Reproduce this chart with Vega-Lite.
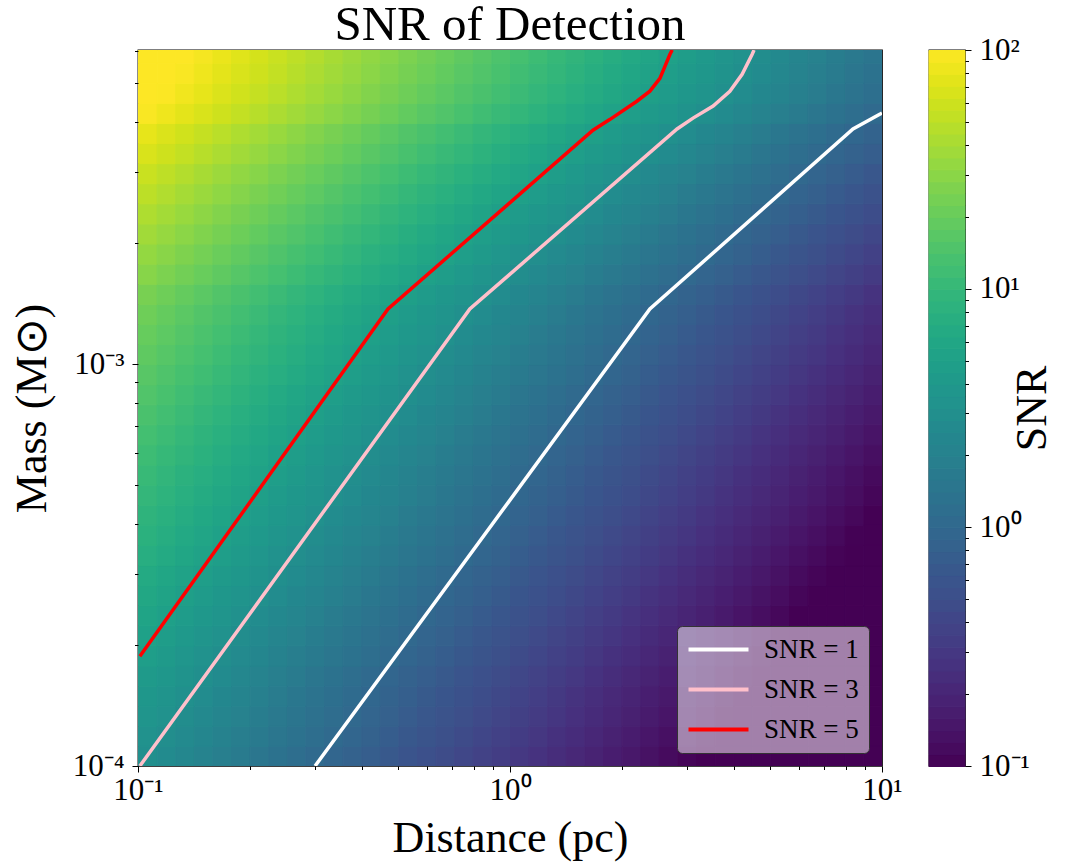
{
"$schema": "https://vega.github.io/schema/vega-lite/v6.json",
"background": "white",
"padding": {"left": 9, "top": 0, "right": 4, "bottom": 2},
"bounds": "flush",
"spacing": 47,
"resolve": {"scale": {"color": "independent", "stroke": "independent"}, "legend": {"stroke": "independent"}},
"config": {"font": "Liberation Serif", "view": {"stroke": "black", "strokeWidth": 1.3}, "title": {"font": "Liberation Serif", "fontSize": 49, "fontWeight": "normal", "color": "black"}},
"hconcat": [
{
"width": 744, "height": 716,
"title": {"text": "SNR of Detection", "offset": -15, "anchor": "middle", "frame": "group"},
"resolve": {"scale": {"stroke": "independent"}},
"layer": [
{
"data": {"values": [
{"x":-0.975,"y":-3.975,"s":0.48},{"x":-0.925,"y":-3.975,"s":0.43},{"x":-0.875,"y":-3.975,"s":0.38},{"x":-0.825,"y":-3.975,"s":0.33},{"x":-0.775,"y":-3.975,"s":0.28},{"x":-0.725,"y":-3.975,"s":0.23},{"x":-0.675,"y":-3.975,"s":0.18},{"x":-0.625,"y":-3.975,"s":0.13},{"x":-0.575,"y":-3.975,"s":0.08},{"x":-0.525,"y":-3.975,"s":0.03},{"x":-0.475,"y":-3.975,"s":-0.02},{"x":-0.425,"y":-3.975,"s":-0.07},{"x":-0.375,"y":-3.975,"s":-0.12},{"x":-0.325,"y":-3.975,"s":-0.17},{"x":-0.275,"y":-3.975,"s":-0.22},{"x":-0.225,"y":-3.975,"s":-0.27},{"x":-0.175,"y":-3.975,"s":-0.32},{"x":-0.125,"y":-3.975,"s":-0.37},{"x":-0.075,"y":-3.975,"s":-0.42},{"x":-0.025,"y":-3.975,"s":-0.47},{"x":0.025,"y":-3.975,"s":-0.52},{"x":0.075,"y":-3.975,"s":-0.57},{"x":0.125,"y":-3.975,"s":-0.62},{"x":0.175,"y":-3.975,"s":-0.67},{"x":0.225,"y":-3.975,"s":-0.72},{"x":0.275,"y":-3.975,"s":-0.77},{"x":0.325,"y":-3.975,"s":-0.82},{"x":0.375,"y":-3.975,"s":-0.87},{"x":0.425,"y":-3.975,"s":-0.92},{"x":0.475,"y":-3.975,"s":-0.97},{"x":0.525,"y":-3.975,"s":-1.02},{"x":0.575,"y":-3.975,"s":-1.07},{"x":0.625,"y":-3.975,"s":-1.12},{"x":0.675,"y":-3.975,"s":-1.17},{"x":0.725,"y":-3.975,"s":-1.22},{"x":0.775,"y":-3.975,"s":-1.27},{"x":0.825,"y":-3.975,"s":-1.32},{"x":0.875,"y":-3.975,"s":-1.37},{"x":0.925,"y":-3.975,"s":-1.42},{"x":0.975,"y":-3.975,"s":-1.47},
{"x":-0.975,"y":-3.925,"s":0.52},{"x":-0.925,"y":-3.925,"s":0.47},{"x":-0.875,"y":-3.925,"s":0.42},{"x":-0.825,"y":-3.925,"s":0.37},{"x":-0.775,"y":-3.925,"s":0.32},{"x":-0.725,"y":-3.925,"s":0.27},{"x":-0.675,"y":-3.925,"s":0.22},{"x":-0.625,"y":-3.925,"s":0.17},{"x":-0.575,"y":-3.925,"s":0.12},{"x":-0.525,"y":-3.925,"s":0.07},{"x":-0.475,"y":-3.925,"s":0.02},{"x":-0.425,"y":-3.925,"s":-0.03},{"x":-0.375,"y":-3.925,"s":-0.08},{"x":-0.325,"y":-3.925,"s":-0.13},{"x":-0.275,"y":-3.925,"s":-0.18},{"x":-0.225,"y":-3.925,"s":-0.23},{"x":-0.175,"y":-3.925,"s":-0.28},{"x":-0.125,"y":-3.925,"s":-0.33},{"x":-0.075,"y":-3.925,"s":-0.38},{"x":-0.025,"y":-3.925,"s":-0.43},{"x":0.025,"y":-3.925,"s":-0.48},{"x":0.075,"y":-3.925,"s":-0.53},{"x":0.125,"y":-3.925,"s":-0.58},{"x":0.175,"y":-3.925,"s":-0.63},{"x":0.225,"y":-3.925,"s":-0.68},{"x":0.275,"y":-3.925,"s":-0.73},{"x":0.325,"y":-3.925,"s":-0.78},{"x":0.375,"y":-3.925,"s":-0.83},{"x":0.425,"y":-3.925,"s":-0.88},{"x":0.475,"y":-3.925,"s":-0.93},{"x":0.525,"y":-3.925,"s":-0.98},{"x":0.575,"y":-3.925,"s":-1.03},{"x":0.625,"y":-3.925,"s":-1.08},{"x":0.675,"y":-3.925,"s":-1.13},{"x":0.725,"y":-3.925,"s":-1.18},{"x":0.775,"y":-3.925,"s":-1.23},{"x":0.825,"y":-3.925,"s":-1.28},{"x":0.875,"y":-3.925,"s":-1.33},{"x":0.925,"y":-3.925,"s":-1.38},{"x":0.975,"y":-3.925,"s":-1.43},
{"x":-0.975,"y":-3.875,"s":0.56},{"x":-0.925,"y":-3.875,"s":0.51},{"x":-0.875,"y":-3.875,"s":0.46},{"x":-0.825,"y":-3.875,"s":0.41},{"x":-0.775,"y":-3.875,"s":0.36},{"x":-0.725,"y":-3.875,"s":0.31},{"x":-0.675,"y":-3.875,"s":0.26},{"x":-0.625,"y":-3.875,"s":0.21},{"x":-0.575,"y":-3.875,"s":0.16},{"x":-0.525,"y":-3.875,"s":0.11},{"x":-0.475,"y":-3.875,"s":0.06},{"x":-0.425,"y":-3.875,"s":0.01},{"x":-0.375,"y":-3.875,"s":-0.04},{"x":-0.325,"y":-3.875,"s":-0.09},{"x":-0.275,"y":-3.875,"s":-0.14},{"x":-0.225,"y":-3.875,"s":-0.19},{"x":-0.175,"y":-3.875,"s":-0.24},{"x":-0.125,"y":-3.875,"s":-0.29},{"x":-0.075,"y":-3.875,"s":-0.34},{"x":-0.025,"y":-3.875,"s":-0.39},{"x":0.025,"y":-3.875,"s":-0.44},{"x":0.075,"y":-3.875,"s":-0.49},{"x":0.125,"y":-3.875,"s":-0.54},{"x":0.175,"y":-3.875,"s":-0.59},{"x":0.225,"y":-3.875,"s":-0.64},{"x":0.275,"y":-3.875,"s":-0.69},{"x":0.325,"y":-3.875,"s":-0.74},{"x":0.375,"y":-3.875,"s":-0.79},{"x":0.425,"y":-3.875,"s":-0.84},{"x":0.475,"y":-3.875,"s":-0.89},{"x":0.525,"y":-3.875,"s":-0.94},{"x":0.575,"y":-3.875,"s":-0.99},{"x":0.625,"y":-3.875,"s":-1.04},{"x":0.675,"y":-3.875,"s":-1.09},{"x":0.725,"y":-3.875,"s":-1.14},{"x":0.775,"y":-3.875,"s":-1.19},{"x":0.825,"y":-3.875,"s":-1.24},{"x":0.875,"y":-3.875,"s":-1.29},{"x":0.925,"y":-3.875,"s":-1.34},{"x":0.975,"y":-3.875,"s":-1.39},
{"x":-0.975,"y":-3.825,"s":0.59},{"x":-0.925,"y":-3.825,"s":0.54},{"x":-0.875,"y":-3.825,"s":0.49},{"x":-0.825,"y":-3.825,"s":0.44},{"x":-0.775,"y":-3.825,"s":0.39},{"x":-0.725,"y":-3.825,"s":0.34},{"x":-0.675,"y":-3.825,"s":0.29},{"x":-0.625,"y":-3.825,"s":0.24},{"x":-0.575,"y":-3.825,"s":0.19},{"x":-0.525,"y":-3.825,"s":0.14},{"x":-0.475,"y":-3.825,"s":0.09},{"x":-0.425,"y":-3.825,"s":0.04},{"x":-0.375,"y":-3.825,"s":-0.01},{"x":-0.325,"y":-3.825,"s":-0.06},{"x":-0.275,"y":-3.825,"s":-0.11},{"x":-0.225,"y":-3.825,"s":-0.16},{"x":-0.175,"y":-3.825,"s":-0.21},{"x":-0.125,"y":-3.825,"s":-0.26},{"x":-0.075,"y":-3.825,"s":-0.31},{"x":-0.025,"y":-3.825,"s":-0.36},{"x":0.025,"y":-3.825,"s":-0.41},{"x":0.075,"y":-3.825,"s":-0.46},{"x":0.125,"y":-3.825,"s":-0.51},{"x":0.175,"y":-3.825,"s":-0.56},{"x":0.225,"y":-3.825,"s":-0.61},{"x":0.275,"y":-3.825,"s":-0.66},{"x":0.325,"y":-3.825,"s":-0.71},{"x":0.375,"y":-3.825,"s":-0.76},{"x":0.425,"y":-3.825,"s":-0.81},{"x":0.475,"y":-3.825,"s":-0.86},{"x":0.525,"y":-3.825,"s":-0.91},{"x":0.575,"y":-3.825,"s":-0.96},{"x":0.625,"y":-3.825,"s":-1.01},{"x":0.675,"y":-3.825,"s":-1.06},{"x":0.725,"y":-3.825,"s":-1.11},{"x":0.775,"y":-3.825,"s":-1.16},{"x":0.825,"y":-3.825,"s":-1.21},{"x":0.875,"y":-3.825,"s":-1.26},{"x":0.925,"y":-3.825,"s":-1.31},{"x":0.975,"y":-3.825,"s":-1.36},
{"x":-0.975,"y":-3.775,"s":0.63},{"x":-0.925,"y":-3.775,"s":0.58},{"x":-0.875,"y":-3.775,"s":0.53},{"x":-0.825,"y":-3.775,"s":0.48},{"x":-0.775,"y":-3.775,"s":0.43},{"x":-0.725,"y":-3.775,"s":0.38},{"x":-0.675,"y":-3.775,"s":0.33},{"x":-0.625,"y":-3.775,"s":0.28},{"x":-0.575,"y":-3.775,"s":0.23},{"x":-0.525,"y":-3.775,"s":0.18},{"x":-0.475,"y":-3.775,"s":0.13},{"x":-0.425,"y":-3.775,"s":0.08},{"x":-0.375,"y":-3.775,"s":0.03},{"x":-0.325,"y":-3.775,"s":-0.02},{"x":-0.275,"y":-3.775,"s":-0.07},{"x":-0.225,"y":-3.775,"s":-0.12},{"x":-0.175,"y":-3.775,"s":-0.17},{"x":-0.125,"y":-3.775,"s":-0.22},{"x":-0.075,"y":-3.775,"s":-0.27},{"x":-0.025,"y":-3.775,"s":-0.32},{"x":0.025,"y":-3.775,"s":-0.37},{"x":0.075,"y":-3.775,"s":-0.42},{"x":0.125,"y":-3.775,"s":-0.47},{"x":0.175,"y":-3.775,"s":-0.52},{"x":0.225,"y":-3.775,"s":-0.57},{"x":0.275,"y":-3.775,"s":-0.62},{"x":0.325,"y":-3.775,"s":-0.67},{"x":0.375,"y":-3.775,"s":-0.72},{"x":0.425,"y":-3.775,"s":-0.77},{"x":0.475,"y":-3.775,"s":-0.82},{"x":0.525,"y":-3.775,"s":-0.87},{"x":0.575,"y":-3.775,"s":-0.92},{"x":0.625,"y":-3.775,"s":-0.97},{"x":0.675,"y":-3.775,"s":-1.02},{"x":0.725,"y":-3.775,"s":-1.07},{"x":0.775,"y":-3.775,"s":-1.12},{"x":0.825,"y":-3.775,"s":-1.17},{"x":0.875,"y":-3.775,"s":-1.22},{"x":0.925,"y":-3.775,"s":-1.27},{"x":0.975,"y":-3.775,"s":-1.32},
{"x":-0.975,"y":-3.725,"s":0.67},{"x":-0.925,"y":-3.725,"s":0.62},{"x":-0.875,"y":-3.725,"s":0.57},{"x":-0.825,"y":-3.725,"s":0.52},{"x":-0.775,"y":-3.725,"s":0.47},{"x":-0.725,"y":-3.725,"s":0.42},{"x":-0.675,"y":-3.725,"s":0.37},{"x":-0.625,"y":-3.725,"s":0.32},{"x":-0.575,"y":-3.725,"s":0.27},{"x":-0.525,"y":-3.725,"s":0.22},{"x":-0.475,"y":-3.725,"s":0.17},{"x":-0.425,"y":-3.725,"s":0.12},{"x":-0.375,"y":-3.725,"s":0.07},{"x":-0.325,"y":-3.725,"s":0.02},{"x":-0.275,"y":-3.725,"s":-0.03},{"x":-0.225,"y":-3.725,"s":-0.08},{"x":-0.175,"y":-3.725,"s":-0.13},{"x":-0.125,"y":-3.725,"s":-0.18},{"x":-0.075,"y":-3.725,"s":-0.23},{"x":-0.025,"y":-3.725,"s":-0.28},{"x":0.025,"y":-3.725,"s":-0.33},{"x":0.075,"y":-3.725,"s":-0.38},{"x":0.125,"y":-3.725,"s":-0.43},{"x":0.175,"y":-3.725,"s":-0.48},{"x":0.225,"y":-3.725,"s":-0.53},{"x":0.275,"y":-3.725,"s":-0.58},{"x":0.325,"y":-3.725,"s":-0.63},{"x":0.375,"y":-3.725,"s":-0.68},{"x":0.425,"y":-3.725,"s":-0.73},{"x":0.475,"y":-3.725,"s":-0.78},{"x":0.525,"y":-3.725,"s":-0.83},{"x":0.575,"y":-3.725,"s":-0.88},{"x":0.625,"y":-3.725,"s":-0.93},{"x":0.675,"y":-3.725,"s":-0.98},{"x":0.725,"y":-3.725,"s":-1.03},{"x":0.775,"y":-3.725,"s":-1.08},{"x":0.825,"y":-3.725,"s":-1.13},{"x":0.875,"y":-3.725,"s":-1.18},{"x":0.925,"y":-3.725,"s":-1.23},{"x":0.975,"y":-3.725,"s":-1.28},
{"x":-0.975,"y":-3.675,"s":0.71},{"x":-0.925,"y":-3.675,"s":0.66},{"x":-0.875,"y":-3.675,"s":0.61},{"x":-0.825,"y":-3.675,"s":0.56},{"x":-0.775,"y":-3.675,"s":0.51},{"x":-0.725,"y":-3.675,"s":0.46},{"x":-0.675,"y":-3.675,"s":0.41},{"x":-0.625,"y":-3.675,"s":0.36},{"x":-0.575,"y":-3.675,"s":0.31},{"x":-0.525,"y":-3.675,"s":0.26},{"x":-0.475,"y":-3.675,"s":0.21},{"x":-0.425,"y":-3.675,"s":0.16},{"x":-0.375,"y":-3.675,"s":0.11},{"x":-0.325,"y":-3.675,"s":0.06},{"x":-0.275,"y":-3.675,"s":0.01},{"x":-0.225,"y":-3.675,"s":-0.04},{"x":-0.175,"y":-3.675,"s":-0.09},{"x":-0.125,"y":-3.675,"s":-0.14},{"x":-0.075,"y":-3.675,"s":-0.19},{"x":-0.025,"y":-3.675,"s":-0.24},{"x":0.025,"y":-3.675,"s":-0.29},{"x":0.075,"y":-3.675,"s":-0.34},{"x":0.125,"y":-3.675,"s":-0.39},{"x":0.175,"y":-3.675,"s":-0.44},{"x":0.225,"y":-3.675,"s":-0.49},{"x":0.275,"y":-3.675,"s":-0.54},{"x":0.325,"y":-3.675,"s":-0.59},{"x":0.375,"y":-3.675,"s":-0.64},{"x":0.425,"y":-3.675,"s":-0.69},{"x":0.475,"y":-3.675,"s":-0.74},{"x":0.525,"y":-3.675,"s":-0.79},{"x":0.575,"y":-3.675,"s":-0.84},{"x":0.625,"y":-3.675,"s":-0.89},{"x":0.675,"y":-3.675,"s":-0.94},{"x":0.725,"y":-3.675,"s":-0.99},{"x":0.775,"y":-3.675,"s":-1.04},{"x":0.825,"y":-3.675,"s":-1.09},{"x":0.875,"y":-3.675,"s":-1.14},{"x":0.925,"y":-3.675,"s":-1.19},{"x":0.975,"y":-3.675,"s":-1.24},
{"x":-0.975,"y":-3.625,"s":0.75},{"x":-0.925,"y":-3.625,"s":0.7},{"x":-0.875,"y":-3.625,"s":0.65},{"x":-0.825,"y":-3.625,"s":0.6},{"x":-0.775,"y":-3.625,"s":0.55},{"x":-0.725,"y":-3.625,"s":0.5},{"x":-0.675,"y":-3.625,"s":0.45},{"x":-0.625,"y":-3.625,"s":0.4},{"x":-0.575,"y":-3.625,"s":0.35},{"x":-0.525,"y":-3.625,"s":0.3},{"x":-0.475,"y":-3.625,"s":0.25},{"x":-0.425,"y":-3.625,"s":0.2},{"x":-0.375,"y":-3.625,"s":0.15},{"x":-0.325,"y":-3.625,"s":0.1},{"x":-0.275,"y":-3.625,"s":0.05},{"x":-0.225,"y":-3.625,"s":0},{"x":-0.175,"y":-3.625,"s":-0.05},{"x":-0.125,"y":-3.625,"s":-0.1},{"x":-0.075,"y":-3.625,"s":-0.15},{"x":-0.025,"y":-3.625,"s":-0.2},{"x":0.025,"y":-3.625,"s":-0.25},{"x":0.075,"y":-3.625,"s":-0.3},{"x":0.125,"y":-3.625,"s":-0.35},{"x":0.175,"y":-3.625,"s":-0.4},{"x":0.225,"y":-3.625,"s":-0.45},{"x":0.275,"y":-3.625,"s":-0.5},{"x":0.325,"y":-3.625,"s":-0.55},{"x":0.375,"y":-3.625,"s":-0.6},{"x":0.425,"y":-3.625,"s":-0.65},{"x":0.475,"y":-3.625,"s":-0.7},{"x":0.525,"y":-3.625,"s":-0.75},{"x":0.575,"y":-3.625,"s":-0.8},{"x":0.625,"y":-3.625,"s":-0.85},{"x":0.675,"y":-3.625,"s":-0.9},{"x":0.725,"y":-3.625,"s":-0.95},{"x":0.775,"y":-3.625,"s":-1},{"x":0.825,"y":-3.625,"s":-1.05},{"x":0.875,"y":-3.625,"s":-1.1},{"x":0.925,"y":-3.625,"s":-1.15},{"x":0.975,"y":-3.625,"s":-1.2},
{"x":-0.975,"y":-3.575,"s":0.79},{"x":-0.925,"y":-3.575,"s":0.74},{"x":-0.875,"y":-3.575,"s":0.69},{"x":-0.825,"y":-3.575,"s":0.64},{"x":-0.775,"y":-3.575,"s":0.59},{"x":-0.725,"y":-3.575,"s":0.54},{"x":-0.675,"y":-3.575,"s":0.49},{"x":-0.625,"y":-3.575,"s":0.44},{"x":-0.575,"y":-3.575,"s":0.39},{"x":-0.525,"y":-3.575,"s":0.34},{"x":-0.475,"y":-3.575,"s":0.29},{"x":-0.425,"y":-3.575,"s":0.24},{"x":-0.375,"y":-3.575,"s":0.19},{"x":-0.325,"y":-3.575,"s":0.14},{"x":-0.275,"y":-3.575,"s":0.09},{"x":-0.225,"y":-3.575,"s":0.04},{"x":-0.175,"y":-3.575,"s":-0.01},{"x":-0.125,"y":-3.575,"s":-0.06},{"x":-0.075,"y":-3.575,"s":-0.11},{"x":-0.025,"y":-3.575,"s":-0.16},{"x":0.025,"y":-3.575,"s":-0.21},{"x":0.075,"y":-3.575,"s":-0.26},{"x":0.125,"y":-3.575,"s":-0.31},{"x":0.175,"y":-3.575,"s":-0.36},{"x":0.225,"y":-3.575,"s":-0.41},{"x":0.275,"y":-3.575,"s":-0.46},{"x":0.325,"y":-3.575,"s":-0.51},{"x":0.375,"y":-3.575,"s":-0.56},{"x":0.425,"y":-3.575,"s":-0.61},{"x":0.475,"y":-3.575,"s":-0.66},{"x":0.525,"y":-3.575,"s":-0.71},{"x":0.575,"y":-3.575,"s":-0.76},{"x":0.625,"y":-3.575,"s":-0.81},{"x":0.675,"y":-3.575,"s":-0.86},{"x":0.725,"y":-3.575,"s":-0.91},{"x":0.775,"y":-3.575,"s":-0.96},{"x":0.825,"y":-3.575,"s":-1.01},{"x":0.875,"y":-3.575,"s":-1.06},{"x":0.925,"y":-3.575,"s":-1.11},{"x":0.975,"y":-3.575,"s":-1.16},
{"x":-0.975,"y":-3.525,"s":0.83},{"x":-0.925,"y":-3.525,"s":0.78},{"x":-0.875,"y":-3.525,"s":0.73},{"x":-0.825,"y":-3.525,"s":0.68},{"x":-0.775,"y":-3.525,"s":0.63},{"x":-0.725,"y":-3.525,"s":0.58},{"x":-0.675,"y":-3.525,"s":0.53},{"x":-0.625,"y":-3.525,"s":0.48},{"x":-0.575,"y":-3.525,"s":0.43},{"x":-0.525,"y":-3.525,"s":0.38},{"x":-0.475,"y":-3.525,"s":0.33},{"x":-0.425,"y":-3.525,"s":0.28},{"x":-0.375,"y":-3.525,"s":0.23},{"x":-0.325,"y":-3.525,"s":0.18},{"x":-0.275,"y":-3.525,"s":0.13},{"x":-0.225,"y":-3.525,"s":0.08},{"x":-0.175,"y":-3.525,"s":0.03},{"x":-0.125,"y":-3.525,"s":-0.02},{"x":-0.075,"y":-3.525,"s":-0.07},{"x":-0.025,"y":-3.525,"s":-0.12},{"x":0.025,"y":-3.525,"s":-0.17},{"x":0.075,"y":-3.525,"s":-0.22},{"x":0.125,"y":-3.525,"s":-0.27},{"x":0.175,"y":-3.525,"s":-0.32},{"x":0.225,"y":-3.525,"s":-0.37},{"x":0.275,"y":-3.525,"s":-0.42},{"x":0.325,"y":-3.525,"s":-0.47},{"x":0.375,"y":-3.525,"s":-0.52},{"x":0.425,"y":-3.525,"s":-0.57},{"x":0.475,"y":-3.525,"s":-0.62},{"x":0.525,"y":-3.525,"s":-0.67},{"x":0.575,"y":-3.525,"s":-0.72},{"x":0.625,"y":-3.525,"s":-0.77},{"x":0.675,"y":-3.525,"s":-0.82},{"x":0.725,"y":-3.525,"s":-0.87},{"x":0.775,"y":-3.525,"s":-0.92},{"x":0.825,"y":-3.525,"s":-0.97},{"x":0.875,"y":-3.525,"s":-1.02},{"x":0.925,"y":-3.525,"s":-1.07},{"x":0.975,"y":-3.525,"s":-1.12},
{"x":-0.975,"y":-3.475,"s":0.87},{"x":-0.925,"y":-3.475,"s":0.82},{"x":-0.875,"y":-3.475,"s":0.77},{"x":-0.825,"y":-3.475,"s":0.72},{"x":-0.775,"y":-3.475,"s":0.67},{"x":-0.725,"y":-3.475,"s":0.62},{"x":-0.675,"y":-3.475,"s":0.57},{"x":-0.625,"y":-3.475,"s":0.52},{"x":-0.575,"y":-3.475,"s":0.47},{"x":-0.525,"y":-3.475,"s":0.42},{"x":-0.475,"y":-3.475,"s":0.37},{"x":-0.425,"y":-3.475,"s":0.32},{"x":-0.375,"y":-3.475,"s":0.27},{"x":-0.325,"y":-3.475,"s":0.22},{"x":-0.275,"y":-3.475,"s":0.17},{"x":-0.225,"y":-3.475,"s":0.12},{"x":-0.175,"y":-3.475,"s":0.07},{"x":-0.125,"y":-3.475,"s":0.02},{"x":-0.075,"y":-3.475,"s":-0.03},{"x":-0.025,"y":-3.475,"s":-0.08},{"x":0.025,"y":-3.475,"s":-0.13},{"x":0.075,"y":-3.475,"s":-0.18},{"x":0.125,"y":-3.475,"s":-0.23},{"x":0.175,"y":-3.475,"s":-0.28},{"x":0.225,"y":-3.475,"s":-0.33},{"x":0.275,"y":-3.475,"s":-0.38},{"x":0.325,"y":-3.475,"s":-0.43},{"x":0.375,"y":-3.475,"s":-0.48},{"x":0.425,"y":-3.475,"s":-0.53},{"x":0.475,"y":-3.475,"s":-0.58},{"x":0.525,"y":-3.475,"s":-0.63},{"x":0.575,"y":-3.475,"s":-0.68},{"x":0.625,"y":-3.475,"s":-0.73},{"x":0.675,"y":-3.475,"s":-0.78},{"x":0.725,"y":-3.475,"s":-0.83},{"x":0.775,"y":-3.475,"s":-0.88},{"x":0.825,"y":-3.475,"s":-0.93},{"x":0.875,"y":-3.475,"s":-0.98},{"x":0.925,"y":-3.475,"s":-1.03},{"x":0.975,"y":-3.475,"s":-1.08},
{"x":-0.975,"y":-3.425,"s":0.91},{"x":-0.925,"y":-3.425,"s":0.86},{"x":-0.875,"y":-3.425,"s":0.81},{"x":-0.825,"y":-3.425,"s":0.76},{"x":-0.775,"y":-3.425,"s":0.71},{"x":-0.725,"y":-3.425,"s":0.66},{"x":-0.675,"y":-3.425,"s":0.61},{"x":-0.625,"y":-3.425,"s":0.56},{"x":-0.575,"y":-3.425,"s":0.51},{"x":-0.525,"y":-3.425,"s":0.46},{"x":-0.475,"y":-3.425,"s":0.41},{"x":-0.425,"y":-3.425,"s":0.36},{"x":-0.375,"y":-3.425,"s":0.31},{"x":-0.325,"y":-3.425,"s":0.26},{"x":-0.275,"y":-3.425,"s":0.21},{"x":-0.225,"y":-3.425,"s":0.16},{"x":-0.175,"y":-3.425,"s":0.11},{"x":-0.125,"y":-3.425,"s":0.06},{"x":-0.075,"y":-3.425,"s":0.01},{"x":-0.025,"y":-3.425,"s":-0.04},{"x":0.025,"y":-3.425,"s":-0.09},{"x":0.075,"y":-3.425,"s":-0.14},{"x":0.125,"y":-3.425,"s":-0.19},{"x":0.175,"y":-3.425,"s":-0.24},{"x":0.225,"y":-3.425,"s":-0.29},{"x":0.275,"y":-3.425,"s":-0.34},{"x":0.325,"y":-3.425,"s":-0.39},{"x":0.375,"y":-3.425,"s":-0.44},{"x":0.425,"y":-3.425,"s":-0.49},{"x":0.475,"y":-3.425,"s":-0.54},{"x":0.525,"y":-3.425,"s":-0.59},{"x":0.575,"y":-3.425,"s":-0.64},{"x":0.625,"y":-3.425,"s":-0.69},{"x":0.675,"y":-3.425,"s":-0.74},{"x":0.725,"y":-3.425,"s":-0.79},{"x":0.775,"y":-3.425,"s":-0.84},{"x":0.825,"y":-3.425,"s":-0.89},{"x":0.875,"y":-3.425,"s":-0.94},{"x":0.925,"y":-3.425,"s":-0.99},{"x":0.975,"y":-3.425,"s":-1.04},
{"x":-0.975,"y":-3.375,"s":0.95},{"x":-0.925,"y":-3.375,"s":0.9},{"x":-0.875,"y":-3.375,"s":0.85},{"x":-0.825,"y":-3.375,"s":0.8},{"x":-0.775,"y":-3.375,"s":0.75},{"x":-0.725,"y":-3.375,"s":0.7},{"x":-0.675,"y":-3.375,"s":0.65},{"x":-0.625,"y":-3.375,"s":0.6},{"x":-0.575,"y":-3.375,"s":0.55},{"x":-0.525,"y":-3.375,"s":0.5},{"x":-0.475,"y":-3.375,"s":0.45},{"x":-0.425,"y":-3.375,"s":0.4},{"x":-0.375,"y":-3.375,"s":0.35},{"x":-0.325,"y":-3.375,"s":0.3},{"x":-0.275,"y":-3.375,"s":0.25},{"x":-0.225,"y":-3.375,"s":0.2},{"x":-0.175,"y":-3.375,"s":0.15},{"x":-0.125,"y":-3.375,"s":0.1},{"x":-0.075,"y":-3.375,"s":0.05},{"x":-0.025,"y":-3.375,"s":0},{"x":0.025,"y":-3.375,"s":-0.05},{"x":0.075,"y":-3.375,"s":-0.1},{"x":0.125,"y":-3.375,"s":-0.15},{"x":0.175,"y":-3.375,"s":-0.2},{"x":0.225,"y":-3.375,"s":-0.25},{"x":0.275,"y":-3.375,"s":-0.3},{"x":0.325,"y":-3.375,"s":-0.35},{"x":0.375,"y":-3.375,"s":-0.4},{"x":0.425,"y":-3.375,"s":-0.45},{"x":0.475,"y":-3.375,"s":-0.5},{"x":0.525,"y":-3.375,"s":-0.55},{"x":0.575,"y":-3.375,"s":-0.6},{"x":0.625,"y":-3.375,"s":-0.65},{"x":0.675,"y":-3.375,"s":-0.7},{"x":0.725,"y":-3.375,"s":-0.75},{"x":0.775,"y":-3.375,"s":-0.8},{"x":0.825,"y":-3.375,"s":-0.85},{"x":0.875,"y":-3.375,"s":-0.9},{"x":0.925,"y":-3.375,"s":-0.95},{"x":0.975,"y":-3.375,"s":-1},
{"x":-0.975,"y":-3.325,"s":0.99},{"x":-0.925,"y":-3.325,"s":0.94},{"x":-0.875,"y":-3.325,"s":0.89},{"x":-0.825,"y":-3.325,"s":0.84},{"x":-0.775,"y":-3.325,"s":0.79},{"x":-0.725,"y":-3.325,"s":0.74},{"x":-0.675,"y":-3.325,"s":0.69},{"x":-0.625,"y":-3.325,"s":0.64},{"x":-0.575,"y":-3.325,"s":0.59},{"x":-0.525,"y":-3.325,"s":0.54},{"x":-0.475,"y":-3.325,"s":0.49},{"x":-0.425,"y":-3.325,"s":0.44},{"x":-0.375,"y":-3.325,"s":0.39},{"x":-0.325,"y":-3.325,"s":0.34},{"x":-0.275,"y":-3.325,"s":0.29},{"x":-0.225,"y":-3.325,"s":0.24},{"x":-0.175,"y":-3.325,"s":0.19},{"x":-0.125,"y":-3.325,"s":0.14},{"x":-0.075,"y":-3.325,"s":0.09},{"x":-0.025,"y":-3.325,"s":0.04},{"x":0.025,"y":-3.325,"s":-0.01},{"x":0.075,"y":-3.325,"s":-0.06},{"x":0.125,"y":-3.325,"s":-0.11},{"x":0.175,"y":-3.325,"s":-0.16},{"x":0.225,"y":-3.325,"s":-0.21},{"x":0.275,"y":-3.325,"s":-0.26},{"x":0.325,"y":-3.325,"s":-0.31},{"x":0.375,"y":-3.325,"s":-0.36},{"x":0.425,"y":-3.325,"s":-0.41},{"x":0.475,"y":-3.325,"s":-0.46},{"x":0.525,"y":-3.325,"s":-0.51},{"x":0.575,"y":-3.325,"s":-0.56},{"x":0.625,"y":-3.325,"s":-0.61},{"x":0.675,"y":-3.325,"s":-0.66},{"x":0.725,"y":-3.325,"s":-0.71},{"x":0.775,"y":-3.325,"s":-0.76},{"x":0.825,"y":-3.325,"s":-0.81},{"x":0.875,"y":-3.325,"s":-0.86},{"x":0.925,"y":-3.325,"s":-0.91},{"x":0.975,"y":-3.325,"s":-0.96},
{"x":-0.975,"y":-3.275,"s":1.02},{"x":-0.925,"y":-3.275,"s":0.97},{"x":-0.875,"y":-3.275,"s":0.92},{"x":-0.825,"y":-3.275,"s":0.87},{"x":-0.775,"y":-3.275,"s":0.82},{"x":-0.725,"y":-3.275,"s":0.77},{"x":-0.675,"y":-3.275,"s":0.72},{"x":-0.625,"y":-3.275,"s":0.67},{"x":-0.575,"y":-3.275,"s":0.62},{"x":-0.525,"y":-3.275,"s":0.57},{"x":-0.475,"y":-3.275,"s":0.52},{"x":-0.425,"y":-3.275,"s":0.47},{"x":-0.375,"y":-3.275,"s":0.42},{"x":-0.325,"y":-3.275,"s":0.37},{"x":-0.275,"y":-3.275,"s":0.32},{"x":-0.225,"y":-3.275,"s":0.27},{"x":-0.175,"y":-3.275,"s":0.22},{"x":-0.125,"y":-3.275,"s":0.17},{"x":-0.075,"y":-3.275,"s":0.12},{"x":-0.025,"y":-3.275,"s":0.07},{"x":0.025,"y":-3.275,"s":0.02},{"x":0.075,"y":-3.275,"s":-0.03},{"x":0.125,"y":-3.275,"s":-0.08},{"x":0.175,"y":-3.275,"s":-0.13},{"x":0.225,"y":-3.275,"s":-0.18},{"x":0.275,"y":-3.275,"s":-0.23},{"x":0.325,"y":-3.275,"s":-0.28},{"x":0.375,"y":-3.275,"s":-0.33},{"x":0.425,"y":-3.275,"s":-0.38},{"x":0.475,"y":-3.275,"s":-0.43},{"x":0.525,"y":-3.275,"s":-0.48},{"x":0.575,"y":-3.275,"s":-0.53},{"x":0.625,"y":-3.275,"s":-0.58},{"x":0.675,"y":-3.275,"s":-0.63},{"x":0.725,"y":-3.275,"s":-0.68},{"x":0.775,"y":-3.275,"s":-0.73},{"x":0.825,"y":-3.275,"s":-0.78},{"x":0.875,"y":-3.275,"s":-0.83},{"x":0.925,"y":-3.275,"s":-0.88},{"x":0.975,"y":-3.275,"s":-0.93},
{"x":-0.975,"y":-3.225,"s":1.06},{"x":-0.925,"y":-3.225,"s":1.01},{"x":-0.875,"y":-3.225,"s":0.96},{"x":-0.825,"y":-3.225,"s":0.91},{"x":-0.775,"y":-3.225,"s":0.86},{"x":-0.725,"y":-3.225,"s":0.81},{"x":-0.675,"y":-3.225,"s":0.76},{"x":-0.625,"y":-3.225,"s":0.71},{"x":-0.575,"y":-3.225,"s":0.66},{"x":-0.525,"y":-3.225,"s":0.61},{"x":-0.475,"y":-3.225,"s":0.56},{"x":-0.425,"y":-3.225,"s":0.51},{"x":-0.375,"y":-3.225,"s":0.46},{"x":-0.325,"y":-3.225,"s":0.41},{"x":-0.275,"y":-3.225,"s":0.36},{"x":-0.225,"y":-3.225,"s":0.31},{"x":-0.175,"y":-3.225,"s":0.26},{"x":-0.125,"y":-3.225,"s":0.21},{"x":-0.075,"y":-3.225,"s":0.16},{"x":-0.025,"y":-3.225,"s":0.11},{"x":0.025,"y":-3.225,"s":0.06},{"x":0.075,"y":-3.225,"s":0.01},{"x":0.125,"y":-3.225,"s":-0.04},{"x":0.175,"y":-3.225,"s":-0.09},{"x":0.225,"y":-3.225,"s":-0.14},{"x":0.275,"y":-3.225,"s":-0.19},{"x":0.325,"y":-3.225,"s":-0.24},{"x":0.375,"y":-3.225,"s":-0.29},{"x":0.425,"y":-3.225,"s":-0.34},{"x":0.475,"y":-3.225,"s":-0.39},{"x":0.525,"y":-3.225,"s":-0.44},{"x":0.575,"y":-3.225,"s":-0.49},{"x":0.625,"y":-3.225,"s":-0.54},{"x":0.675,"y":-3.225,"s":-0.59},{"x":0.725,"y":-3.225,"s":-0.64},{"x":0.775,"y":-3.225,"s":-0.69},{"x":0.825,"y":-3.225,"s":-0.74},{"x":0.875,"y":-3.225,"s":-0.79},{"x":0.925,"y":-3.225,"s":-0.84},{"x":0.975,"y":-3.225,"s":-0.89},
{"x":-0.975,"y":-3.175,"s":1.1},{"x":-0.925,"y":-3.175,"s":1.05},{"x":-0.875,"y":-3.175,"s":1},{"x":-0.825,"y":-3.175,"s":0.95},{"x":-0.775,"y":-3.175,"s":0.9},{"x":-0.725,"y":-3.175,"s":0.85},{"x":-0.675,"y":-3.175,"s":0.8},{"x":-0.625,"y":-3.175,"s":0.75},{"x":-0.575,"y":-3.175,"s":0.7},{"x":-0.525,"y":-3.175,"s":0.65},{"x":-0.475,"y":-3.175,"s":0.6},{"x":-0.425,"y":-3.175,"s":0.55},{"x":-0.375,"y":-3.175,"s":0.5},{"x":-0.325,"y":-3.175,"s":0.45},{"x":-0.275,"y":-3.175,"s":0.4},{"x":-0.225,"y":-3.175,"s":0.35},{"x":-0.175,"y":-3.175,"s":0.3},{"x":-0.125,"y":-3.175,"s":0.25},{"x":-0.075,"y":-3.175,"s":0.2},{"x":-0.025,"y":-3.175,"s":0.15},{"x":0.025,"y":-3.175,"s":0.1},{"x":0.075,"y":-3.175,"s":0.05},{"x":0.125,"y":-3.175,"s":0},{"x":0.175,"y":-3.175,"s":-0.05},{"x":0.225,"y":-3.175,"s":-0.1},{"x":0.275,"y":-3.175,"s":-0.15},{"x":0.325,"y":-3.175,"s":-0.2},{"x":0.375,"y":-3.175,"s":-0.25},{"x":0.425,"y":-3.175,"s":-0.3},{"x":0.475,"y":-3.175,"s":-0.35},{"x":0.525,"y":-3.175,"s":-0.4},{"x":0.575,"y":-3.175,"s":-0.45},{"x":0.625,"y":-3.175,"s":-0.5},{"x":0.675,"y":-3.175,"s":-0.55},{"x":0.725,"y":-3.175,"s":-0.6},{"x":0.775,"y":-3.175,"s":-0.65},{"x":0.825,"y":-3.175,"s":-0.7},{"x":0.875,"y":-3.175,"s":-0.75},{"x":0.925,"y":-3.175,"s":-0.8},{"x":0.975,"y":-3.175,"s":-0.85},
{"x":-0.975,"y":-3.125,"s":1.14},{"x":-0.925,"y":-3.125,"s":1.09},{"x":-0.875,"y":-3.125,"s":1.04},{"x":-0.825,"y":-3.125,"s":0.99},{"x":-0.775,"y":-3.125,"s":0.94},{"x":-0.725,"y":-3.125,"s":0.89},{"x":-0.675,"y":-3.125,"s":0.84},{"x":-0.625,"y":-3.125,"s":0.79},{"x":-0.575,"y":-3.125,"s":0.74},{"x":-0.525,"y":-3.125,"s":0.69},{"x":-0.475,"y":-3.125,"s":0.64},{"x":-0.425,"y":-3.125,"s":0.59},{"x":-0.375,"y":-3.125,"s":0.54},{"x":-0.325,"y":-3.125,"s":0.49},{"x":-0.275,"y":-3.125,"s":0.44},{"x":-0.225,"y":-3.125,"s":0.39},{"x":-0.175,"y":-3.125,"s":0.34},{"x":-0.125,"y":-3.125,"s":0.29},{"x":-0.075,"y":-3.125,"s":0.24},{"x":-0.025,"y":-3.125,"s":0.19},{"x":0.025,"y":-3.125,"s":0.14},{"x":0.075,"y":-3.125,"s":0.09},{"x":0.125,"y":-3.125,"s":0.04},{"x":0.175,"y":-3.125,"s":-0.01},{"x":0.225,"y":-3.125,"s":-0.06},{"x":0.275,"y":-3.125,"s":-0.11},{"x":0.325,"y":-3.125,"s":-0.16},{"x":0.375,"y":-3.125,"s":-0.21},{"x":0.425,"y":-3.125,"s":-0.26},{"x":0.475,"y":-3.125,"s":-0.31},{"x":0.525,"y":-3.125,"s":-0.36},{"x":0.575,"y":-3.125,"s":-0.41},{"x":0.625,"y":-3.125,"s":-0.46},{"x":0.675,"y":-3.125,"s":-0.51},{"x":0.725,"y":-3.125,"s":-0.56},{"x":0.775,"y":-3.125,"s":-0.61},{"x":0.825,"y":-3.125,"s":-0.66},{"x":0.875,"y":-3.125,"s":-0.71},{"x":0.925,"y":-3.125,"s":-0.76},{"x":0.975,"y":-3.125,"s":-0.81},
{"x":-0.975,"y":-3.075,"s":1.18},{"x":-0.925,"y":-3.075,"s":1.13},{"x":-0.875,"y":-3.075,"s":1.08},{"x":-0.825,"y":-3.075,"s":1.03},{"x":-0.775,"y":-3.075,"s":0.98},{"x":-0.725,"y":-3.075,"s":0.93},{"x":-0.675,"y":-3.075,"s":0.88},{"x":-0.625,"y":-3.075,"s":0.83},{"x":-0.575,"y":-3.075,"s":0.78},{"x":-0.525,"y":-3.075,"s":0.73},{"x":-0.475,"y":-3.075,"s":0.68},{"x":-0.425,"y":-3.075,"s":0.63},{"x":-0.375,"y":-3.075,"s":0.58},{"x":-0.325,"y":-3.075,"s":0.53},{"x":-0.275,"y":-3.075,"s":0.48},{"x":-0.225,"y":-3.075,"s":0.43},{"x":-0.175,"y":-3.075,"s":0.38},{"x":-0.125,"y":-3.075,"s":0.33},{"x":-0.075,"y":-3.075,"s":0.28},{"x":-0.025,"y":-3.075,"s":0.23},{"x":0.025,"y":-3.075,"s":0.18},{"x":0.075,"y":-3.075,"s":0.13},{"x":0.125,"y":-3.075,"s":0.08},{"x":0.175,"y":-3.075,"s":0.03},{"x":0.225,"y":-3.075,"s":-0.02},{"x":0.275,"y":-3.075,"s":-0.07},{"x":0.325,"y":-3.075,"s":-0.12},{"x":0.375,"y":-3.075,"s":-0.17},{"x":0.425,"y":-3.075,"s":-0.22},{"x":0.475,"y":-3.075,"s":-0.27},{"x":0.525,"y":-3.075,"s":-0.32},{"x":0.575,"y":-3.075,"s":-0.37},{"x":0.625,"y":-3.075,"s":-0.42},{"x":0.675,"y":-3.075,"s":-0.47},{"x":0.725,"y":-3.075,"s":-0.52},{"x":0.775,"y":-3.075,"s":-0.57},{"x":0.825,"y":-3.075,"s":-0.62},{"x":0.875,"y":-3.075,"s":-0.67},{"x":0.925,"y":-3.075,"s":-0.72},{"x":0.975,"y":-3.075,"s":-0.77},
{"x":-0.975,"y":-3.025,"s":1.22},{"x":-0.925,"y":-3.025,"s":1.17},{"x":-0.875,"y":-3.025,"s":1.12},{"x":-0.825,"y":-3.025,"s":1.07},{"x":-0.775,"y":-3.025,"s":1.02},{"x":-0.725,"y":-3.025,"s":0.97},{"x":-0.675,"y":-3.025,"s":0.92},{"x":-0.625,"y":-3.025,"s":0.87},{"x":-0.575,"y":-3.025,"s":0.82},{"x":-0.525,"y":-3.025,"s":0.77},{"x":-0.475,"y":-3.025,"s":0.72},{"x":-0.425,"y":-3.025,"s":0.67},{"x":-0.375,"y":-3.025,"s":0.62},{"x":-0.325,"y":-3.025,"s":0.57},{"x":-0.275,"y":-3.025,"s":0.52},{"x":-0.225,"y":-3.025,"s":0.47},{"x":-0.175,"y":-3.025,"s":0.42},{"x":-0.125,"y":-3.025,"s":0.37},{"x":-0.075,"y":-3.025,"s":0.32},{"x":-0.025,"y":-3.025,"s":0.27},{"x":0.025,"y":-3.025,"s":0.22},{"x":0.075,"y":-3.025,"s":0.17},{"x":0.125,"y":-3.025,"s":0.12},{"x":0.175,"y":-3.025,"s":0.07},{"x":0.225,"y":-3.025,"s":0.02},{"x":0.275,"y":-3.025,"s":-0.03},{"x":0.325,"y":-3.025,"s":-0.08},{"x":0.375,"y":-3.025,"s":-0.13},{"x":0.425,"y":-3.025,"s":-0.18},{"x":0.475,"y":-3.025,"s":-0.23},{"x":0.525,"y":-3.025,"s":-0.28},{"x":0.575,"y":-3.025,"s":-0.33},{"x":0.625,"y":-3.025,"s":-0.38},{"x":0.675,"y":-3.025,"s":-0.43},{"x":0.725,"y":-3.025,"s":-0.48},{"x":0.775,"y":-3.025,"s":-0.53},{"x":0.825,"y":-3.025,"s":-0.58},{"x":0.875,"y":-3.025,"s":-0.63},{"x":0.925,"y":-3.025,"s":-0.68},{"x":0.975,"y":-3.025,"s":-0.73},
{"x":-0.975,"y":-2.975,"s":1.26},{"x":-0.925,"y":-2.975,"s":1.21},{"x":-0.875,"y":-2.975,"s":1.16},{"x":-0.825,"y":-2.975,"s":1.11},{"x":-0.775,"y":-2.975,"s":1.06},{"x":-0.725,"y":-2.975,"s":1.01},{"x":-0.675,"y":-2.975,"s":0.96},{"x":-0.625,"y":-2.975,"s":0.91},{"x":-0.575,"y":-2.975,"s":0.86},{"x":-0.525,"y":-2.975,"s":0.81},{"x":-0.475,"y":-2.975,"s":0.76},{"x":-0.425,"y":-2.975,"s":0.71},{"x":-0.375,"y":-2.975,"s":0.66},{"x":-0.325,"y":-2.975,"s":0.61},{"x":-0.275,"y":-2.975,"s":0.56},{"x":-0.225,"y":-2.975,"s":0.51},{"x":-0.175,"y":-2.975,"s":0.46},{"x":-0.125,"y":-2.975,"s":0.41},{"x":-0.075,"y":-2.975,"s":0.36},{"x":-0.025,"y":-2.975,"s":0.31},{"x":0.025,"y":-2.975,"s":0.26},{"x":0.075,"y":-2.975,"s":0.21},{"x":0.125,"y":-2.975,"s":0.16},{"x":0.175,"y":-2.975,"s":0.11},{"x":0.225,"y":-2.975,"s":0.06},{"x":0.275,"y":-2.975,"s":0.01},{"x":0.325,"y":-2.975,"s":-0.04},{"x":0.375,"y":-2.975,"s":-0.09},{"x":0.425,"y":-2.975,"s":-0.14},{"x":0.475,"y":-2.975,"s":-0.19},{"x":0.525,"y":-2.975,"s":-0.24},{"x":0.575,"y":-2.975,"s":-0.29},{"x":0.625,"y":-2.975,"s":-0.34},{"x":0.675,"y":-2.975,"s":-0.39},{"x":0.725,"y":-2.975,"s":-0.44},{"x":0.775,"y":-2.975,"s":-0.49},{"x":0.825,"y":-2.975,"s":-0.54},{"x":0.875,"y":-2.975,"s":-0.59},{"x":0.925,"y":-2.975,"s":-0.64},{"x":0.975,"y":-2.975,"s":-0.69},
{"x":-0.975,"y":-2.925,"s":1.3},{"x":-0.925,"y":-2.925,"s":1.25},{"x":-0.875,"y":-2.925,"s":1.2},{"x":-0.825,"y":-2.925,"s":1.15},{"x":-0.775,"y":-2.925,"s":1.1},{"x":-0.725,"y":-2.925,"s":1.05},{"x":-0.675,"y":-2.925,"s":1},{"x":-0.625,"y":-2.925,"s":0.95},{"x":-0.575,"y":-2.925,"s":0.9},{"x":-0.525,"y":-2.925,"s":0.85},{"x":-0.475,"y":-2.925,"s":0.8},{"x":-0.425,"y":-2.925,"s":0.75},{"x":-0.375,"y":-2.925,"s":0.7},{"x":-0.325,"y":-2.925,"s":0.65},{"x":-0.275,"y":-2.925,"s":0.6},{"x":-0.225,"y":-2.925,"s":0.55},{"x":-0.175,"y":-2.925,"s":0.5},{"x":-0.125,"y":-2.925,"s":0.45},{"x":-0.075,"y":-2.925,"s":0.4},{"x":-0.025,"y":-2.925,"s":0.35},{"x":0.025,"y":-2.925,"s":0.3},{"x":0.075,"y":-2.925,"s":0.25},{"x":0.125,"y":-2.925,"s":0.2},{"x":0.175,"y":-2.925,"s":0.15},{"x":0.225,"y":-2.925,"s":0.1},{"x":0.275,"y":-2.925,"s":0.05},{"x":0.325,"y":-2.925,"s":0},{"x":0.375,"y":-2.925,"s":-0.05},{"x":0.425,"y":-2.925,"s":-0.1},{"x":0.475,"y":-2.925,"s":-0.15},{"x":0.525,"y":-2.925,"s":-0.2},{"x":0.575,"y":-2.925,"s":-0.25},{"x":0.625,"y":-2.925,"s":-0.3},{"x":0.675,"y":-2.925,"s":-0.35},{"x":0.725,"y":-2.925,"s":-0.4},{"x":0.775,"y":-2.925,"s":-0.45},{"x":0.825,"y":-2.925,"s":-0.5},{"x":0.875,"y":-2.925,"s":-0.55},{"x":0.925,"y":-2.925,"s":-0.6},{"x":0.975,"y":-2.925,"s":-0.65},
{"x":-0.975,"y":-2.875,"s":1.34},{"x":-0.925,"y":-2.875,"s":1.29},{"x":-0.875,"y":-2.875,"s":1.24},{"x":-0.825,"y":-2.875,"s":1.19},{"x":-0.775,"y":-2.875,"s":1.14},{"x":-0.725,"y":-2.875,"s":1.09},{"x":-0.675,"y":-2.875,"s":1.04},{"x":-0.625,"y":-2.875,"s":0.99},{"x":-0.575,"y":-2.875,"s":0.94},{"x":-0.525,"y":-2.875,"s":0.89},{"x":-0.475,"y":-2.875,"s":0.84},{"x":-0.425,"y":-2.875,"s":0.79},{"x":-0.375,"y":-2.875,"s":0.74},{"x":-0.325,"y":-2.875,"s":0.69},{"x":-0.275,"y":-2.875,"s":0.64},{"x":-0.225,"y":-2.875,"s":0.59},{"x":-0.175,"y":-2.875,"s":0.54},{"x":-0.125,"y":-2.875,"s":0.49},{"x":-0.075,"y":-2.875,"s":0.44},{"x":-0.025,"y":-2.875,"s":0.39},{"x":0.025,"y":-2.875,"s":0.34},{"x":0.075,"y":-2.875,"s":0.29},{"x":0.125,"y":-2.875,"s":0.24},{"x":0.175,"y":-2.875,"s":0.19},{"x":0.225,"y":-2.875,"s":0.14},{"x":0.275,"y":-2.875,"s":0.09},{"x":0.325,"y":-2.875,"s":0.04},{"x":0.375,"y":-2.875,"s":-0.01},{"x":0.425,"y":-2.875,"s":-0.06},{"x":0.475,"y":-2.875,"s":-0.11},{"x":0.525,"y":-2.875,"s":-0.16},{"x":0.575,"y":-2.875,"s":-0.21},{"x":0.625,"y":-2.875,"s":-0.26},{"x":0.675,"y":-2.875,"s":-0.31},{"x":0.725,"y":-2.875,"s":-0.36},{"x":0.775,"y":-2.875,"s":-0.41},{"x":0.825,"y":-2.875,"s":-0.46},{"x":0.875,"y":-2.875,"s":-0.51},{"x":0.925,"y":-2.875,"s":-0.56},{"x":0.975,"y":-2.875,"s":-0.61},
{"x":-0.975,"y":-2.825,"s":1.39},{"x":-0.925,"y":-2.825,"s":1.34},{"x":-0.875,"y":-2.825,"s":1.29},{"x":-0.825,"y":-2.825,"s":1.24},{"x":-0.775,"y":-2.825,"s":1.19},{"x":-0.725,"y":-2.825,"s":1.14},{"x":-0.675,"y":-2.825,"s":1.09},{"x":-0.625,"y":-2.825,"s":1.04},{"x":-0.575,"y":-2.825,"s":0.99},{"x":-0.525,"y":-2.825,"s":0.94},{"x":-0.475,"y":-2.825,"s":0.89},{"x":-0.425,"y":-2.825,"s":0.84},{"x":-0.375,"y":-2.825,"s":0.79},{"x":-0.325,"y":-2.825,"s":0.74},{"x":-0.275,"y":-2.825,"s":0.69},{"x":-0.225,"y":-2.825,"s":0.64},{"x":-0.175,"y":-2.825,"s":0.59},{"x":-0.125,"y":-2.825,"s":0.54},{"x":-0.075,"y":-2.825,"s":0.49},{"x":-0.025,"y":-2.825,"s":0.44},{"x":0.025,"y":-2.825,"s":0.39},{"x":0.075,"y":-2.825,"s":0.34},{"x":0.125,"y":-2.825,"s":0.29},{"x":0.175,"y":-2.825,"s":0.24},{"x":0.225,"y":-2.825,"s":0.19},{"x":0.275,"y":-2.825,"s":0.14},{"x":0.325,"y":-2.825,"s":0.09},{"x":0.375,"y":-2.825,"s":0.04},{"x":0.425,"y":-2.825,"s":-0.01},{"x":0.475,"y":-2.825,"s":-0.06},{"x":0.525,"y":-2.825,"s":-0.11},{"x":0.575,"y":-2.825,"s":-0.16},{"x":0.625,"y":-2.825,"s":-0.21},{"x":0.675,"y":-2.825,"s":-0.26},{"x":0.725,"y":-2.825,"s":-0.31},{"x":0.775,"y":-2.825,"s":-0.36},{"x":0.825,"y":-2.825,"s":-0.41},{"x":0.875,"y":-2.825,"s":-0.46},{"x":0.925,"y":-2.825,"s":-0.51},{"x":0.975,"y":-2.825,"s":-0.56},
{"x":-0.975,"y":-2.775,"s":1.46},{"x":-0.925,"y":-2.775,"s":1.41},{"x":-0.875,"y":-2.775,"s":1.36},{"x":-0.825,"y":-2.775,"s":1.31},{"x":-0.775,"y":-2.775,"s":1.26},{"x":-0.725,"y":-2.775,"s":1.21},{"x":-0.675,"y":-2.775,"s":1.16},{"x":-0.625,"y":-2.775,"s":1.11},{"x":-0.575,"y":-2.775,"s":1.06},{"x":-0.525,"y":-2.775,"s":1.01},{"x":-0.475,"y":-2.775,"s":0.96},{"x":-0.425,"y":-2.775,"s":0.91},{"x":-0.375,"y":-2.775,"s":0.86},{"x":-0.325,"y":-2.775,"s":0.81},{"x":-0.275,"y":-2.775,"s":0.76},{"x":-0.225,"y":-2.775,"s":0.71},{"x":-0.175,"y":-2.775,"s":0.66},{"x":-0.125,"y":-2.775,"s":0.61},{"x":-0.075,"y":-2.775,"s":0.56},{"x":-0.025,"y":-2.775,"s":0.51},{"x":0.025,"y":-2.775,"s":0.46},{"x":0.075,"y":-2.775,"s":0.41},{"x":0.125,"y":-2.775,"s":0.36},{"x":0.175,"y":-2.775,"s":0.31},{"x":0.225,"y":-2.775,"s":0.26},{"x":0.275,"y":-2.775,"s":0.21},{"x":0.325,"y":-2.775,"s":0.16},{"x":0.375,"y":-2.775,"s":0.11},{"x":0.425,"y":-2.775,"s":0.06},{"x":0.475,"y":-2.775,"s":0.01},{"x":0.525,"y":-2.775,"s":-0.04},{"x":0.575,"y":-2.775,"s":-0.09},{"x":0.625,"y":-2.775,"s":-0.14},{"x":0.675,"y":-2.775,"s":-0.19},{"x":0.725,"y":-2.775,"s":-0.24},{"x":0.775,"y":-2.775,"s":-0.29},{"x":0.825,"y":-2.775,"s":-0.34},{"x":0.875,"y":-2.775,"s":-0.39},{"x":0.925,"y":-2.775,"s":-0.44},{"x":0.975,"y":-2.775,"s":-0.49},
{"x":-0.975,"y":-2.725,"s":1.52},{"x":-0.925,"y":-2.725,"s":1.47},{"x":-0.875,"y":-2.725,"s":1.42},{"x":-0.825,"y":-2.725,"s":1.37},{"x":-0.775,"y":-2.725,"s":1.32},{"x":-0.725,"y":-2.725,"s":1.27},{"x":-0.675,"y":-2.725,"s":1.22},{"x":-0.625,"y":-2.725,"s":1.17},{"x":-0.575,"y":-2.725,"s":1.12},{"x":-0.525,"y":-2.725,"s":1.07},{"x":-0.475,"y":-2.725,"s":1.02},{"x":-0.425,"y":-2.725,"s":0.97},{"x":-0.375,"y":-2.725,"s":0.92},{"x":-0.325,"y":-2.725,"s":0.87},{"x":-0.275,"y":-2.725,"s":0.82},{"x":-0.225,"y":-2.725,"s":0.77},{"x":-0.175,"y":-2.725,"s":0.72},{"x":-0.125,"y":-2.725,"s":0.67},{"x":-0.075,"y":-2.725,"s":0.62},{"x":-0.025,"y":-2.725,"s":0.57},{"x":0.025,"y":-2.725,"s":0.52},{"x":0.075,"y":-2.725,"s":0.47},{"x":0.125,"y":-2.725,"s":0.42},{"x":0.175,"y":-2.725,"s":0.37},{"x":0.225,"y":-2.725,"s":0.32},{"x":0.275,"y":-2.725,"s":0.27},{"x":0.325,"y":-2.725,"s":0.22},{"x":0.375,"y":-2.725,"s":0.17},{"x":0.425,"y":-2.725,"s":0.12},{"x":0.475,"y":-2.725,"s":0.07},{"x":0.525,"y":-2.725,"s":0.02},{"x":0.575,"y":-2.725,"s":-0.03},{"x":0.625,"y":-2.725,"s":-0.08},{"x":0.675,"y":-2.725,"s":-0.13},{"x":0.725,"y":-2.725,"s":-0.18},{"x":0.775,"y":-2.725,"s":-0.23},{"x":0.825,"y":-2.725,"s":-0.28},{"x":0.875,"y":-2.725,"s":-0.33},{"x":0.925,"y":-2.725,"s":-0.38},{"x":0.975,"y":-2.725,"s":-0.43},
{"x":-0.975,"y":-2.675,"s":1.58},{"x":-0.925,"y":-2.675,"s":1.53},{"x":-0.875,"y":-2.675,"s":1.48},{"x":-0.825,"y":-2.675,"s":1.43},{"x":-0.775,"y":-2.675,"s":1.38},{"x":-0.725,"y":-2.675,"s":1.33},{"x":-0.675,"y":-2.675,"s":1.28},{"x":-0.625,"y":-2.675,"s":1.23},{"x":-0.575,"y":-2.675,"s":1.18},{"x":-0.525,"y":-2.675,"s":1.13},{"x":-0.475,"y":-2.675,"s":1.08},{"x":-0.425,"y":-2.675,"s":1.03},{"x":-0.375,"y":-2.675,"s":0.98},{"x":-0.325,"y":-2.675,"s":0.93},{"x":-0.275,"y":-2.675,"s":0.88},{"x":-0.225,"y":-2.675,"s":0.83},{"x":-0.175,"y":-2.675,"s":0.78},{"x":-0.125,"y":-2.675,"s":0.73},{"x":-0.075,"y":-2.675,"s":0.68},{"x":-0.025,"y":-2.675,"s":0.63},{"x":0.025,"y":-2.675,"s":0.58},{"x":0.075,"y":-2.675,"s":0.53},{"x":0.125,"y":-2.675,"s":0.48},{"x":0.175,"y":-2.675,"s":0.43},{"x":0.225,"y":-2.675,"s":0.38},{"x":0.275,"y":-2.675,"s":0.33},{"x":0.325,"y":-2.675,"s":0.28},{"x":0.375,"y":-2.675,"s":0.23},{"x":0.425,"y":-2.675,"s":0.18},{"x":0.475,"y":-2.675,"s":0.13},{"x":0.525,"y":-2.675,"s":0.08},{"x":0.575,"y":-2.675,"s":0.03},{"x":0.625,"y":-2.675,"s":-0.02},{"x":0.675,"y":-2.675,"s":-0.07},{"x":0.725,"y":-2.675,"s":-0.12},{"x":0.775,"y":-2.675,"s":-0.17},{"x":0.825,"y":-2.675,"s":-0.22},{"x":0.875,"y":-2.675,"s":-0.27},{"x":0.925,"y":-2.675,"s":-0.32},{"x":0.975,"y":-2.675,"s":-0.37},
{"x":-0.975,"y":-2.625,"s":1.64},{"x":-0.925,"y":-2.625,"s":1.59},{"x":-0.875,"y":-2.625,"s":1.54},{"x":-0.825,"y":-2.625,"s":1.49},{"x":-0.775,"y":-2.625,"s":1.44},{"x":-0.725,"y":-2.625,"s":1.39},{"x":-0.675,"y":-2.625,"s":1.34},{"x":-0.625,"y":-2.625,"s":1.29},{"x":-0.575,"y":-2.625,"s":1.24},{"x":-0.525,"y":-2.625,"s":1.19},{"x":-0.475,"y":-2.625,"s":1.14},{"x":-0.425,"y":-2.625,"s":1.09},{"x":-0.375,"y":-2.625,"s":1.04},{"x":-0.325,"y":-2.625,"s":0.99},{"x":-0.275,"y":-2.625,"s":0.94},{"x":-0.225,"y":-2.625,"s":0.89},{"x":-0.175,"y":-2.625,"s":0.84},{"x":-0.125,"y":-2.625,"s":0.79},{"x":-0.075,"y":-2.625,"s":0.74},{"x":-0.025,"y":-2.625,"s":0.69},{"x":0.025,"y":-2.625,"s":0.64},{"x":0.075,"y":-2.625,"s":0.59},{"x":0.125,"y":-2.625,"s":0.54},{"x":0.175,"y":-2.625,"s":0.49},{"x":0.225,"y":-2.625,"s":0.44},{"x":0.275,"y":-2.625,"s":0.39},{"x":0.325,"y":-2.625,"s":0.34},{"x":0.375,"y":-2.625,"s":0.29},{"x":0.425,"y":-2.625,"s":0.24},{"x":0.475,"y":-2.625,"s":0.19},{"x":0.525,"y":-2.625,"s":0.14},{"x":0.575,"y":-2.625,"s":0.09},{"x":0.625,"y":-2.625,"s":0.04},{"x":0.675,"y":-2.625,"s":-0.01},{"x":0.725,"y":-2.625,"s":-0.06},{"x":0.775,"y":-2.625,"s":-0.11},{"x":0.825,"y":-2.625,"s":-0.16},{"x":0.875,"y":-2.625,"s":-0.21},{"x":0.925,"y":-2.625,"s":-0.26},{"x":0.975,"y":-2.625,"s":-0.31},
{"x":-0.975,"y":-2.575,"s":1.7},{"x":-0.925,"y":-2.575,"s":1.65},{"x":-0.875,"y":-2.575,"s":1.6},{"x":-0.825,"y":-2.575,"s":1.55},{"x":-0.775,"y":-2.575,"s":1.5},{"x":-0.725,"y":-2.575,"s":1.45},{"x":-0.675,"y":-2.575,"s":1.4},{"x":-0.625,"y":-2.575,"s":1.35},{"x":-0.575,"y":-2.575,"s":1.3},{"x":-0.525,"y":-2.575,"s":1.25},{"x":-0.475,"y":-2.575,"s":1.2},{"x":-0.425,"y":-2.575,"s":1.15},{"x":-0.375,"y":-2.575,"s":1.1},{"x":-0.325,"y":-2.575,"s":1.05},{"x":-0.275,"y":-2.575,"s":1},{"x":-0.225,"y":-2.575,"s":0.95},{"x":-0.175,"y":-2.575,"s":0.9},{"x":-0.125,"y":-2.575,"s":0.85},{"x":-0.075,"y":-2.575,"s":0.8},{"x":-0.025,"y":-2.575,"s":0.75},{"x":0.025,"y":-2.575,"s":0.7},{"x":0.075,"y":-2.575,"s":0.65},{"x":0.125,"y":-2.575,"s":0.6},{"x":0.175,"y":-2.575,"s":0.55},{"x":0.225,"y":-2.575,"s":0.5},{"x":0.275,"y":-2.575,"s":0.45},{"x":0.325,"y":-2.575,"s":0.4},{"x":0.375,"y":-2.575,"s":0.35},{"x":0.425,"y":-2.575,"s":0.3},{"x":0.475,"y":-2.575,"s":0.25},{"x":0.525,"y":-2.575,"s":0.2},{"x":0.575,"y":-2.575,"s":0.15},{"x":0.625,"y":-2.575,"s":0.1},{"x":0.675,"y":-2.575,"s":0.05},{"x":0.725,"y":-2.575,"s":0},{"x":0.775,"y":-2.575,"s":-0.05},{"x":0.825,"y":-2.575,"s":-0.1},{"x":0.875,"y":-2.575,"s":-0.15},{"x":0.925,"y":-2.575,"s":-0.2},{"x":0.975,"y":-2.575,"s":-0.25},
{"x":-0.975,"y":-2.525,"s":1.76},{"x":-0.925,"y":-2.525,"s":1.71},{"x":-0.875,"y":-2.525,"s":1.66},{"x":-0.825,"y":-2.525,"s":1.61},{"x":-0.775,"y":-2.525,"s":1.56},{"x":-0.725,"y":-2.525,"s":1.51},{"x":-0.675,"y":-2.525,"s":1.46},{"x":-0.625,"y":-2.525,"s":1.41},{"x":-0.575,"y":-2.525,"s":1.36},{"x":-0.525,"y":-2.525,"s":1.31},{"x":-0.475,"y":-2.525,"s":1.26},{"x":-0.425,"y":-2.525,"s":1.21},{"x":-0.375,"y":-2.525,"s":1.16},{"x":-0.325,"y":-2.525,"s":1.11},{"x":-0.275,"y":-2.525,"s":1.06},{"x":-0.225,"y":-2.525,"s":1.01},{"x":-0.175,"y":-2.525,"s":0.96},{"x":-0.125,"y":-2.525,"s":0.91},{"x":-0.075,"y":-2.525,"s":0.86},{"x":-0.025,"y":-2.525,"s":0.81},{"x":0.025,"y":-2.525,"s":0.76},{"x":0.075,"y":-2.525,"s":0.71},{"x":0.125,"y":-2.525,"s":0.66},{"x":0.175,"y":-2.525,"s":0.61},{"x":0.225,"y":-2.525,"s":0.56},{"x":0.275,"y":-2.525,"s":0.51},{"x":0.325,"y":-2.525,"s":0.46},{"x":0.375,"y":-2.525,"s":0.41},{"x":0.425,"y":-2.525,"s":0.36},{"x":0.475,"y":-2.525,"s":0.31},{"x":0.525,"y":-2.525,"s":0.26},{"x":0.575,"y":-2.525,"s":0.21},{"x":0.625,"y":-2.525,"s":0.16},{"x":0.675,"y":-2.525,"s":0.11},{"x":0.725,"y":-2.525,"s":0.06},{"x":0.775,"y":-2.525,"s":0.01},{"x":0.825,"y":-2.525,"s":-0.04},{"x":0.875,"y":-2.525,"s":-0.09},{"x":0.925,"y":-2.525,"s":-0.14},{"x":0.975,"y":-2.525,"s":-0.19},
{"x":-0.975,"y":-2.475,"s":1.83},{"x":-0.925,"y":-2.475,"s":1.78},{"x":-0.875,"y":-2.475,"s":1.73},{"x":-0.825,"y":-2.475,"s":1.68},{"x":-0.775,"y":-2.475,"s":1.63},{"x":-0.725,"y":-2.475,"s":1.58},{"x":-0.675,"y":-2.475,"s":1.53},{"x":-0.625,"y":-2.475,"s":1.48},{"x":-0.575,"y":-2.475,"s":1.43},{"x":-0.525,"y":-2.475,"s":1.38},{"x":-0.475,"y":-2.475,"s":1.33},{"x":-0.425,"y":-2.475,"s":1.28},{"x":-0.375,"y":-2.475,"s":1.23},{"x":-0.325,"y":-2.475,"s":1.18},{"x":-0.275,"y":-2.475,"s":1.13},{"x":-0.225,"y":-2.475,"s":1.08},{"x":-0.175,"y":-2.475,"s":1.03},{"x":-0.125,"y":-2.475,"s":0.98},{"x":-0.075,"y":-2.475,"s":0.93},{"x":-0.025,"y":-2.475,"s":0.88},{"x":0.025,"y":-2.475,"s":0.83},{"x":0.075,"y":-2.475,"s":0.78},{"x":0.125,"y":-2.475,"s":0.73},{"x":0.175,"y":-2.475,"s":0.68},{"x":0.225,"y":-2.475,"s":0.63},{"x":0.275,"y":-2.475,"s":0.58},{"x":0.325,"y":-2.475,"s":0.53},{"x":0.375,"y":-2.475,"s":0.48},{"x":0.425,"y":-2.475,"s":0.43},{"x":0.475,"y":-2.475,"s":0.38},{"x":0.525,"y":-2.475,"s":0.33},{"x":0.575,"y":-2.475,"s":0.28},{"x":0.625,"y":-2.475,"s":0.23},{"x":0.675,"y":-2.475,"s":0.18},{"x":0.725,"y":-2.475,"s":0.13},{"x":0.775,"y":-2.475,"s":0.08},{"x":0.825,"y":-2.475,"s":0.03},{"x":0.875,"y":-2.475,"s":-0.02},{"x":0.925,"y":-2.475,"s":-0.07},{"x":0.975,"y":-2.475,"s":-0.12},
{"x":-0.975,"y":-2.425,"s":1.89},{"x":-0.925,"y":-2.425,"s":1.84},{"x":-0.875,"y":-2.425,"s":1.79},{"x":-0.825,"y":-2.425,"s":1.74},{"x":-0.775,"y":-2.425,"s":1.69},{"x":-0.725,"y":-2.425,"s":1.64},{"x":-0.675,"y":-2.425,"s":1.59},{"x":-0.625,"y":-2.425,"s":1.54},{"x":-0.575,"y":-2.425,"s":1.49},{"x":-0.525,"y":-2.425,"s":1.44},{"x":-0.475,"y":-2.425,"s":1.39},{"x":-0.425,"y":-2.425,"s":1.34},{"x":-0.375,"y":-2.425,"s":1.29},{"x":-0.325,"y":-2.425,"s":1.24},{"x":-0.275,"y":-2.425,"s":1.19},{"x":-0.225,"y":-2.425,"s":1.14},{"x":-0.175,"y":-2.425,"s":1.09},{"x":-0.125,"y":-2.425,"s":1.04},{"x":-0.075,"y":-2.425,"s":0.99},{"x":-0.025,"y":-2.425,"s":0.94},{"x":0.025,"y":-2.425,"s":0.89},{"x":0.075,"y":-2.425,"s":0.84},{"x":0.125,"y":-2.425,"s":0.79},{"x":0.175,"y":-2.425,"s":0.74},{"x":0.225,"y":-2.425,"s":0.69},{"x":0.275,"y":-2.425,"s":0.64},{"x":0.325,"y":-2.425,"s":0.59},{"x":0.375,"y":-2.425,"s":0.54},{"x":0.425,"y":-2.425,"s":0.49},{"x":0.475,"y":-2.425,"s":0.44},{"x":0.525,"y":-2.425,"s":0.39},{"x":0.575,"y":-2.425,"s":0.34},{"x":0.625,"y":-2.425,"s":0.29},{"x":0.675,"y":-2.425,"s":0.24},{"x":0.725,"y":-2.425,"s":0.19},{"x":0.775,"y":-2.425,"s":0.14},{"x":0.825,"y":-2.425,"s":0.09},{"x":0.875,"y":-2.425,"s":0.04},{"x":0.925,"y":-2.425,"s":-0.01},{"x":0.975,"y":-2.425,"s":-0.06},
{"x":-0.975,"y":-2.375,"s":1.98},{"x":-0.925,"y":-2.375,"s":1.93},{"x":-0.875,"y":-2.375,"s":1.88},{"x":-0.825,"y":-2.375,"s":1.83},{"x":-0.775,"y":-2.375,"s":1.78},{"x":-0.725,"y":-2.375,"s":1.73},{"x":-0.675,"y":-2.375,"s":1.68},{"x":-0.625,"y":-2.375,"s":1.63},{"x":-0.575,"y":-2.375,"s":1.58},{"x":-0.525,"y":-2.375,"s":1.53},{"x":-0.475,"y":-2.375,"s":1.48},{"x":-0.425,"y":-2.375,"s":1.43},{"x":-0.375,"y":-2.375,"s":1.38},{"x":-0.325,"y":-2.375,"s":1.33},{"x":-0.275,"y":-2.375,"s":1.28},{"x":-0.225,"y":-2.375,"s":1.23},{"x":-0.175,"y":-2.375,"s":1.18},{"x":-0.125,"y":-2.375,"s":1.13},{"x":-0.075,"y":-2.375,"s":1.08},{"x":-0.025,"y":-2.375,"s":1.03},{"x":0.025,"y":-2.375,"s":0.98},{"x":0.075,"y":-2.375,"s":0.93},{"x":0.125,"y":-2.375,"s":0.88},{"x":0.175,"y":-2.375,"s":0.83},{"x":0.225,"y":-2.375,"s":0.78},{"x":0.275,"y":-2.375,"s":0.73},{"x":0.325,"y":-2.375,"s":0.68},{"x":0.375,"y":-2.375,"s":0.63},{"x":0.425,"y":-2.375,"s":0.58},{"x":0.475,"y":-2.375,"s":0.53},{"x":0.525,"y":-2.375,"s":0.48},{"x":0.575,"y":-2.375,"s":0.43},{"x":0.625,"y":-2.375,"s":0.38},{"x":0.675,"y":-2.375,"s":0.33},{"x":0.725,"y":-2.375,"s":0.28},{"x":0.775,"y":-2.375,"s":0.23},{"x":0.825,"y":-2.375,"s":0.18},{"x":0.875,"y":-2.375,"s":0.13},{"x":0.925,"y":-2.375,"s":0.08},{"x":0.975,"y":-2.375,"s":0.03},
{"x":-0.975,"y":-2.325,"s":2.04},{"x":-0.925,"y":-2.325,"s":1.99},{"x":-0.875,"y":-2.325,"s":1.94},{"x":-0.825,"y":-2.325,"s":1.89},{"x":-0.775,"y":-2.325,"s":1.84},{"x":-0.725,"y":-2.325,"s":1.79},{"x":-0.675,"y":-2.325,"s":1.74},{"x":-0.625,"y":-2.325,"s":1.69},{"x":-0.575,"y":-2.325,"s":1.64},{"x":-0.525,"y":-2.325,"s":1.59},{"x":-0.475,"y":-2.325,"s":1.54},{"x":-0.425,"y":-2.325,"s":1.49},{"x":-0.375,"y":-2.325,"s":1.44},{"x":-0.325,"y":-2.325,"s":1.39},{"x":-0.275,"y":-2.325,"s":1.34},{"x":-0.225,"y":-2.325,"s":1.29},{"x":-0.175,"y":-2.325,"s":1.24},{"x":-0.125,"y":-2.325,"s":1.19},{"x":-0.075,"y":-2.325,"s":1.14},{"x":-0.025,"y":-2.325,"s":1.09},{"x":0.025,"y":-2.325,"s":1.04},{"x":0.075,"y":-2.325,"s":0.99},{"x":0.125,"y":-2.325,"s":0.94},{"x":0.175,"y":-2.325,"s":0.89},{"x":0.225,"y":-2.325,"s":0.84},{"x":0.275,"y":-2.325,"s":0.79},{"x":0.325,"y":-2.325,"s":0.74},{"x":0.375,"y":-2.325,"s":0.69},{"x":0.425,"y":-2.325,"s":0.64},{"x":0.475,"y":-2.325,"s":0.59},{"x":0.525,"y":-2.325,"s":0.54},{"x":0.575,"y":-2.325,"s":0.49},{"x":0.625,"y":-2.325,"s":0.44},{"x":0.675,"y":-2.325,"s":0.39},{"x":0.725,"y":-2.325,"s":0.34},{"x":0.775,"y":-2.325,"s":0.29},{"x":0.825,"y":-2.325,"s":0.24},{"x":0.875,"y":-2.325,"s":0.19},{"x":0.925,"y":-2.325,"s":0.14},{"x":0.975,"y":-2.325,"s":0.09},
{"x":-0.975,"y":-2.275,"s":2.08},{"x":-0.925,"y":-2.275,"s":2.03},{"x":-0.875,"y":-2.275,"s":1.98},{"x":-0.825,"y":-2.275,"s":1.93},{"x":-0.775,"y":-2.275,"s":1.88},{"x":-0.725,"y":-2.275,"s":1.83},{"x":-0.675,"y":-2.275,"s":1.78},{"x":-0.625,"y":-2.275,"s":1.73},{"x":-0.575,"y":-2.275,"s":1.68},{"x":-0.525,"y":-2.275,"s":1.63},{"x":-0.475,"y":-2.275,"s":1.58},{"x":-0.425,"y":-2.275,"s":1.53},{"x":-0.375,"y":-2.275,"s":1.48},{"x":-0.325,"y":-2.275,"s":1.43},{"x":-0.275,"y":-2.275,"s":1.38},{"x":-0.225,"y":-2.275,"s":1.33},{"x":-0.175,"y":-2.275,"s":1.28},{"x":-0.125,"y":-2.275,"s":1.23},{"x":-0.075,"y":-2.275,"s":1.18},{"x":-0.025,"y":-2.275,"s":1.13},{"x":0.025,"y":-2.275,"s":1.08},{"x":0.075,"y":-2.275,"s":1.03},{"x":0.125,"y":-2.275,"s":0.98},{"x":0.175,"y":-2.275,"s":0.93},{"x":0.225,"y":-2.275,"s":0.88},{"x":0.275,"y":-2.275,"s":0.83},{"x":0.325,"y":-2.275,"s":0.78},{"x":0.375,"y":-2.275,"s":0.73},{"x":0.425,"y":-2.275,"s":0.68},{"x":0.475,"y":-2.275,"s":0.63},{"x":0.525,"y":-2.275,"s":0.58},{"x":0.575,"y":-2.275,"s":0.53},{"x":0.625,"y":-2.275,"s":0.48},{"x":0.675,"y":-2.275,"s":0.43},{"x":0.725,"y":-2.275,"s":0.38},{"x":0.775,"y":-2.275,"s":0.33},{"x":0.825,"y":-2.275,"s":0.28},{"x":0.875,"y":-2.275,"s":0.23},{"x":0.925,"y":-2.275,"s":0.18},{"x":0.975,"y":-2.275,"s":0.13},
{"x":-0.975,"y":-2.225,"s":2.11},{"x":-0.925,"y":-2.225,"s":2.06},{"x":-0.875,"y":-2.225,"s":2.01},{"x":-0.825,"y":-2.225,"s":1.96},{"x":-0.775,"y":-2.225,"s":1.91},{"x":-0.725,"y":-2.225,"s":1.86},{"x":-0.675,"y":-2.225,"s":1.81},{"x":-0.625,"y":-2.225,"s":1.76},{"x":-0.575,"y":-2.225,"s":1.71},{"x":-0.525,"y":-2.225,"s":1.66},{"x":-0.475,"y":-2.225,"s":1.61},{"x":-0.425,"y":-2.225,"s":1.56},{"x":-0.375,"y":-2.225,"s":1.51},{"x":-0.325,"y":-2.225,"s":1.46},{"x":-0.275,"y":-2.225,"s":1.41},{"x":-0.225,"y":-2.225,"s":1.36},{"x":-0.175,"y":-2.225,"s":1.31},{"x":-0.125,"y":-2.225,"s":1.26},{"x":-0.075,"y":-2.225,"s":1.21},{"x":-0.025,"y":-2.225,"s":1.16},{"x":0.025,"y":-2.225,"s":1.11},{"x":0.075,"y":-2.225,"s":1.06},{"x":0.125,"y":-2.225,"s":1.01},{"x":0.175,"y":-2.225,"s":0.96},{"x":0.225,"y":-2.225,"s":0.91},{"x":0.275,"y":-2.225,"s":0.86},{"x":0.325,"y":-2.225,"s":0.81},{"x":0.375,"y":-2.225,"s":0.76},{"x":0.425,"y":-2.225,"s":0.71},{"x":0.475,"y":-2.225,"s":0.66},{"x":0.525,"y":-2.225,"s":0.61},{"x":0.575,"y":-2.225,"s":0.56},{"x":0.625,"y":-2.225,"s":0.51},{"x":0.675,"y":-2.225,"s":0.46},{"x":0.725,"y":-2.225,"s":0.41},{"x":0.775,"y":-2.225,"s":0.36},{"x":0.825,"y":-2.225,"s":0.31},{"x":0.875,"y":-2.225,"s":0.26},{"x":0.925,"y":-2.225,"s":0.21},{"x":0.975,"y":-2.225,"s":0.16}
]},
"mark": {"type": "rect", "clip": true, "binSpacing": 0, "strokeWidth": 1},
"encoding": {
"x": {"field": "x", "type": "quantitative", "bin": {"step": 0.05, "extent": [-1, 1]}, "scale": {"domain": [-1, 1], "nice": false, "zero": false},
 "axis": {"title": "Distance (pc)", "titleFontSize": 44, "titleFontWeight": "normal", "titleColor": "black", "titlePadding": 11, "values": [-1,-0.69897,-0.52288,-0.39794,-0.30103,-0.22185,-0.1549,-0.09691,-0.04576,0,0.30103,0.47712,0.60206,0.69897,0.77815,0.8451,0.90309,0.95424,1], "labelExpr": "datum.value == -1 ? '10⁻¹' : datum.value == 0 ? '10⁰' : datum.value == 1 ? '10¹' : ''", "labelFontSize": 31, "labelColor": "black", "labelPadding": 3, "labelFlush": false, "labelOverlap": false, "grid": false, "domain": false, "tickColor": "black", "tickWidth": 1, "tickSize": {"condition": {"test": "abs(datum.value - round(datum.value)) < 0.001", "value": 6}, "value": 3.5}}},
"y": {"field": "y", "type": "quantitative", "bin": {"step": 0.05, "extent": [-4, -2.2]}, "scale": {"domain": [-4, -2.2185], "nice": false, "zero": false},
 "axis": {"title": "Mass (M⊙)", "titleFontSize": 44, "titleFontWeight": "normal", "titleColor": "black", "titlePadding": 18, "values": [-4,-3.69897,-3.52288,-3.39794,-3.30103,-3.22185,-3.1549,-3.09691,-3.04576,-3,-2.69897,-2.52288,-2.39794,-2.30103,-2.22185], "labelExpr": "datum.value == -4 ? '10⁻⁴' : datum.value == -3 ? '10⁻³' : ''", "labelFontSize": 31, "labelColor": "black", "labelPadding": 8, "labelFlush": false, "labelOverlap": false, "grid": false, "domain": false, "tickColor": "black", "tickWidth": 1, "tickSize": {"condition": {"test": "abs(datum.value - round(datum.value)) < 0.001", "value": 6}, "value": 3.5}}},
"color": {"field": "s", "type": "quantitative", "scale": {"domain": [-1, 2], "scheme": "viridis", "clamp": true}, "legend": null},
"stroke": {"field": "s", "type": "quantitative", "scale": {"domain": [-1, 2], "scheme": "viridis", "clamp": true}, "legend": null}
}
},
{
"data": {"values": [
{"c":"SNR = 1","o":1,"x":-0.524,"y":-4},{"c":"SNR = 1","o":2,"x":0.376,"y":-2.863},{"c":"SNR = 1","o":3,"x":0.922,"y":-2.415},{"c":"SNR = 1","o":4,"x":0.995,"y":-2.378},{"c":"SNR = 1","o":5,"x":1.0,"y":-2.375},
{"c":"SNR = 3","o":1,"x":-0.995,"y":-4},{"c":"SNR = 3","o":2,"x":-0.108,"y":-2.863},{"c":"SNR = 3","o":3,"x":0.449,"y":-2.415},{"c":"SNR = 3","o":4,"x":0.492,"y":-2.388},{"c":"SNR = 3","o":5,"x":0.546,"y":-2.358},{"c":"SNR = 3","o":6,"x":0.591,"y":-2.321},{"c":"SNR = 3","o":7,"x":0.624,"y":-2.279},{"c":"SNR = 3","o":8,"x":0.651,"y":-2.229},{"c":"SNR = 3","o":9,"x":0.656,"y":-2.2185},
{"c":"SNR = 5","o":1,"x":-0.995,"y":-3.727},{"c":"SNR = 5","o":2,"x":-0.328,"y":-2.863},{"c":"SNR = 5","o":3,"x":0.223,"y":-2.418},{"c":"SNR = 5","o":4,"x":0.269,"y":-2.391},{"c":"SNR = 5","o":5,"x":0.341,"y":-2.346},{"c":"SNR = 5","o":6,"x":0.376,"y":-2.321},{"c":"SNR = 5","o":7,"x":0.403,"y":-2.289},{"c":"SNR = 5","o":8,"x":0.43,"y":-2.229},{"c":"SNR = 5","o":9,"x":0.436,"y":-2.2185}
]},
"mark": {"type": "line", "strokeWidth": 3.5, "clip": true},
"encoding": {
"x": {"field": "x", "type": "quantitative", "title": "Distance (pc)"},
"y": {"field": "y", "type": "quantitative", "title": "Mass (M⊙)"},
"order": {"field": "o", "type": "quantitative"},
"stroke": {"field": "c", "type": "nominal", "scale": {"domain": ["SNR = 1", "SNR = 3", "SNR = 5"], "range": ["#ffffff", "#ffc0cb", "#ff0000"]},
 "legend": {"title": null, "orient": "bottom-right", "offset": 13, "fillColor": "rgba(255,255,255,0.5)", "strokeColor": "#333333", "cornerRadius": 5, "padding": 10, "symbolType": "M-3,0H3", "symbolSize": 400, "symbolStrokeWidth": 4, "symbolOffset": 18, "labelOffset": 32, "labelFontSize": 27, "labelColor": "black", "labelLimit": 300, "rowPadding": 12}}
}
}
]
},
{
"width": 36, "height": 716,
"data": {"values": [
{"s":-0.975},{"s":-0.925},{"s":-0.875},{"s":-0.825},{"s":-0.775},{"s":-0.725},{"s":-0.675},{"s":-0.625},{"s":-0.575},{"s":-0.525},{"s":-0.475},{"s":-0.425},{"s":-0.375},{"s":-0.325},{"s":-0.275},{"s":-0.225},{"s":-0.175},{"s":-0.125},{"s":-0.075},{"s":-0.025},
{"s":0.025},{"s":0.075},{"s":0.125},{"s":0.175},{"s":0.225},{"s":0.275},{"s":0.325},{"s":0.375},{"s":0.425},{"s":0.475},{"s":0.525},{"s":0.575},{"s":0.625},{"s":0.675},{"s":0.725},{"s":0.775},{"s":0.825},{"s":0.875},{"s":0.925},{"s":0.975},
{"s":1.025},{"s":1.075},{"s":1.125},{"s":1.175},{"s":1.225},{"s":1.275},{"s":1.325},{"s":1.375},{"s":1.425},{"s":1.475},{"s":1.525},{"s":1.575},{"s":1.625},{"s":1.675},{"s":1.725},{"s":1.775},{"s":1.825},{"s":1.875},{"s":1.925},{"s":1.975}
]},
"mark": {"type": "rect", "binSpacing": 0, "strokeWidth": 1},
"encoding": {
"y": {"field": "s", "type": "quantitative", "bin": {"step": 0.05, "extent": [-1, 2]}, "scale": {"domain": [-1, 2], "nice": false, "zero": false},
 "axis": {"orient": "right", "title": "SNR", "titleAngle": 270, "titleFontSize": 44, "titleFontWeight": "normal", "titleColor": "black", "titlePadding": 25, "values": [-1,-0.69897,-0.52288,-0.39794,-0.30103,-0.22185,-0.1549,-0.09691,-0.04576,0,0.30103,0.47712,0.60206,0.69897,0.77815,0.8451,0.90309,0.95424,1,1.30103,1.47712,1.60206,1.69897,1.77815,1.8451,1.90309,1.95424,2], "labelExpr": "datum.value == -1 ? '10⁻¹' : datum.value == 0 ? '10⁰' : datum.value == 1 ? '10¹' : datum.value == 2 ? '10²' : ''", "labelFontSize": 31, "labelColor": "black", "labelPadding": 8, "labelFlush": false, "labelOverlap": false, "grid": false, "domain": false, "tickColor": "black", "tickWidth": 1, "tickSize": {"condition": {"test": "abs(datum.value - round(datum.value)) < 0.001", "value": 6}, "value": 3.5}}},
"color": {"field": "s", "type": "quantitative", "scale": {"domain": [-1, 2], "scheme": "viridis", "clamp": true}, "legend": null},
"stroke": {"field": "s", "type": "quantitative", "scale": {"domain": [-1, 2], "scheme": "viridis", "clamp": true}, "legend": null}
}
}
]
}
